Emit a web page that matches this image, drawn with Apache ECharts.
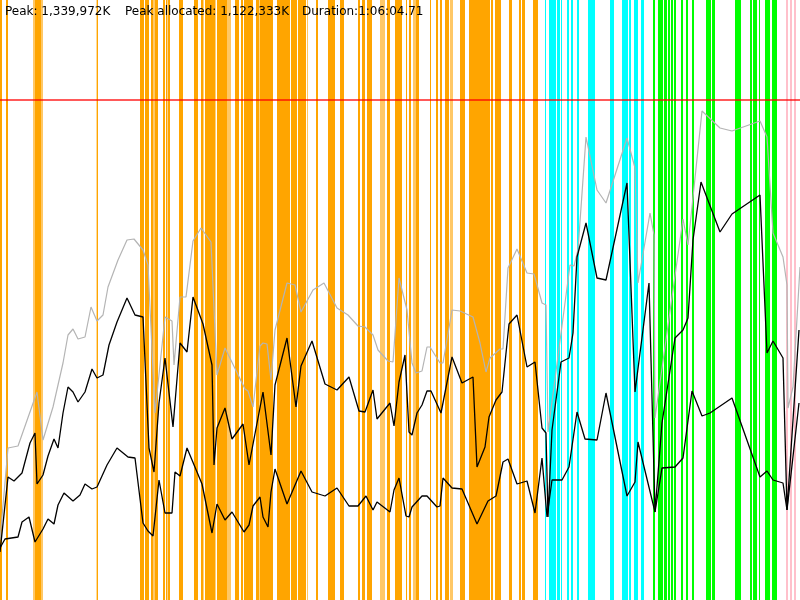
<!DOCTYPE html>
<html>
<head>
<meta charset="utf-8">
<script src="https://cdn.jsdelivr.net/npm/echarts@6/dist/echarts.min.js"></script>
<style>
  html, body { margin: 0; padding: 0; background: #fff; }
  #container { width: 800px; height: 600px; }
</style>
</head>
<body>
<div id="container"></div>
<script>
// header texts
var headerTexts = ['Peak: 1,339,972K', 'Peak allocated: 1,122,333K', 'Duration:1:06:04.71'];

// peak level on the memory scale (0..600)
var peakLevel = 500;

// phase bands along the time axis [start, end]
var orangeBands = [[0,2],[6,8],[35,41],[96.6,98],[140,144],[145,149],[151,153],[155,158],[163,165],[166,167.5],
    [168,170],[179,183],[194,198],[201,203.5],[205,215.5],[217,227],[235,239],[241,243],[244,253],[256,259.5],
    [260,273],[277,282],[282,290],[291,297],[298,306],[316,318],[328,335],[340,344],[358,360],[362,365],
    [367,372],[387,390],[395,402],[406,407],[409,411],[416,419],[430,431],[436,438],[440,442],
    [445,449],[460,465],[469,490],[491,493],[495,501],[509,512],[519,521],[522,525],[533,538]];
var lightOrangeBands = [[33,35],[41,43],[153,155],[227,231],[307,308],[380,385],[413,416],[450,453]];
var cyanBands = [[545,546],[549,556],[557,560],[561,562],[567,569],[571,573],[577,579],[588,595],
    [610,614],[622,628],[629,631],[634,638],[641,644]];
var greenBands = [[653,655],[658,663],[664,667],[668,670],[671,673],[674,676],[681,683],[686,688],
    [692,694],[706,711],[712,715],[735,741],[750,752],[753,757],[759,760],[765,770],[772,777]];
var pinkBands = [[786,788],[790,792],[794,796]];

// total heap (grey)
var heapLine = [[0,60],[8,152],[18,154],[37,208],[43,160],[53,193],[63,237],[68,265],[73,271],[78,261],
    [85,263],[91,293],[97,279],[103,285],[108,313],[118,340],[127,360],[134,361],[143,350],[148,335],
    [155,187],[165,283],[172,279],[174,235],[180,303],[186,303],[193,359],[201,372],[211,358],[217,225],
    [225,252],[245,211],[248,209],[253,193],[260,254],[263,257],[267,256],[271,220],[275,270],[287,317],
    [295,315],[301,288],[313,310],[324,317],[337,292],[348,285],[358,274],[365,273],[373,265],[378,250],
    [388,239],[393,238],[399,322],[407,290],[412,237],[416,227],[422,229],[427,253],[430,253],[440,237],
    [443,237],[452,290],[460,289],[473,283],[480,257],[486,228],[490,242],[500,251],[503,251],[508,332],
    [517,351],[527,327],[534,326],[542,297],[546,295],[548,168],[570,335],[574,334],[578,350],[586,463],
    [597,410],[606,397],[627,462],[635,432],[638,317],[650,387],[654,365],[655,182],[683,381],[688,355],
    [702,489],[720,472],[732,469],[760,479],[767,463],[773,367],[783,343],[787,315],[788,192],[793,213],
    [800,333]];

// allocated (upper black)
var allocLine = [[0,48],[8,123],[14,119],[22,127],[30,157],[35,167],[37,116],[43,125],[48,144],[54,161],
    [58,152],[63,187],[68,213],[73,208],[78,198],[85,208],[92,231],[97,222],[103,225],[109,255],
    [117,278],[127,302],[135,285],[143,283],[149,152],[154,128],[159,197],[165,242],[173,173],[180,257],
    [187,248],[193,303],[203,276],[212,235],[214,135],[217,172],[225,192],[232,161],[243,176],[249,135],
    [263,208],[271,145],[275,215],[287,262],[296,193],[301,234],[312,259],[325,216],[337,210],[349,223],
    [359,189],[365,188],[373,210],[377,181],[390,197],[394,174],[399,218],[405,245],[409,168],[412,165],
    [417,187],[422,195],[427,209],[431,209],[441,187],[452,243],[462,217],[473,223],[477,133],[485,153],
    [489,183],[496,200],[502,208],[509,276],[517,285],[527,233],[535,238],[542,172],[546,167],[548,83],
    [552,170],[561,238],[569,242],[573,267],[577,343],[586,377],[597,322],[606,320],[627,417],[635,208],
    [649,317],[655,88],[662,177],[675,262],[683,270],[688,282],[693,360],[701,418],[720,368],[732,386],
    [760,405],[767,247],[773,259],[783,242],[787,90],[799,270]];

// live after collection (lower black)
var liveLine = [[0,52],[5,61],[18,63],[22,78],[29,83],[35,58],[43,71],[48,81],[54,76],[58,95],
    [64,107],[73,99],[80,105],[85,116],[92,111],[97,113],[107,135],[117,152],[128,143],[135,142],
    [143,77],[148,69],[153,64],[159,120],[165,87],[172,87],[175,128],[180,124],[187,152],[202,116],
    [212,67],[217,96],[225,80],[232,88],[244,68],[249,75],[253,94],[260,103],[263,83],[268,73],
    [271,108],[275,131],[287,96],[301,129],[312,108],[325,104],[337,112],[349,94],[358,94],[366,104],
    [373,90],[377,98],[390,88],[394,110],[399,122],[406,84],[409,83],[412,93],[422,104],[427,104],
    [437,93],[440,94],[443,122],[452,112],[462,111],[477,76],[488,99],[496,104],[503,138],[508,141],
    [517,116],[527,119],[535,87],[542,142],[547,83],[552,120],[562,120],[569,133],[577,188],[585,161],
    [597,160],[606,207],[627,104],[635,118],[638,158],[655,88],[662,132],[675,133],[683,142],[692,209],
    [702,184],[710,187],[732,202],[760,123],[767,129],[773,120],[783,117],[787,90],[799,197]];

var dom = document.getElementById('container');
var myChart = echarts.init(dom);

function bandSeries(bands, color) {
    return {
        type: 'line',
        data: [],
        silent: true,
        markArea: {
            silent: true,
            itemStyle: { color: color, opacity: 1, borderWidth: 0 },
            label: { show: false },
            data: bands.map(function (b) { return [{ xAxis: b[0] }, { xAxis: b[1] }]; })
        }
    };
}

function lineSeries(data, color, width, z) {
    return {
        type: 'line',
        data: data,
        z: z,
        symbol: 'none',
        silent: true,
        animation: false,
        lineStyle: { color: color, width: width }
    };
}

var textStyle = { fontFamily: 'DejaVu Sans', fontSize: 12, fontWeight: 'normal', color: '#000' };

var option = {
    animation: false,
    backgroundColor: '#fff',
    title: [
        { text: headerTexts[0], left: 5, top: 6, padding: 0, textStyle: textStyle },
        { text: headerTexts[1], left: 125, top: 6, padding: 0, textStyle: textStyle },
        { text: headerTexts[2], left: 302, top: 6, padding: 0, textStyle: textStyle }
    ],
    grid: { left: 0, right: 0, top: 0, bottom: 0 },
    xAxis: { type: 'value', min: 0, max: 800, show: false },
    yAxis: { type: 'value', min: 0, max: 600, show: false },
    series: [
        bandSeries(orangeBands, '#ffa500'),
        bandSeries(lightOrangeBands, '#ffc866'),
        bandSeries(cyanBands, '#00ffff'),
        bandSeries(greenBands, '#00ff00'),
        bandSeries(pinkBands, '#ffc0cb'),
        {
            type: 'line',
            data: [],
            silent: true,
            markLine: {
                silent: true,
                symbol: 'none',
                label: { show: false },
                lineStyle: { color: 'rgba(255,0,0,0.65)', width: 2, type: 'solid' },
                data: [{ yAxis: peakLevel }]
            }
        },
        lineSeries(heapLine, '#b4b4b4', 1.2, 3),
        lineSeries(allocLine, '#000', 1.3, 4),
        lineSeries(liveLine, '#000', 1.3, 4)
    ]
};

myChart.setOption(option, true);
</script>
</body>
</html>
